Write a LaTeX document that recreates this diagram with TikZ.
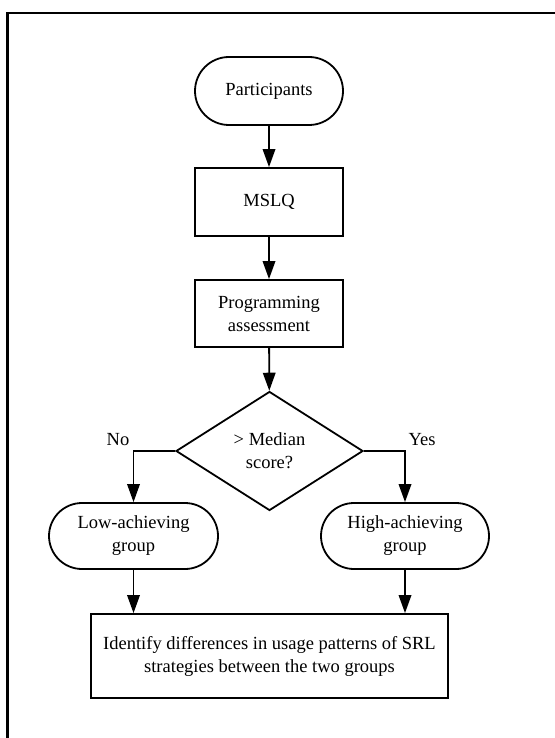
\documentclass[tikz,border=0pt]{standalone}
\usepackage{fontspec}
\setmainfont{Liberation Serif}
\usetikzlibrary{shapes.geometric,shapes.misc,arrows.meta}

\tikzset{every picture/.style={line width=1.8pt}}
\tikzset{
  terminal/.style={draw, rounded rectangle, minimum height=68pt, align=center, inner sep=0pt},
  process/.style={draw, rectangle, minimum height=68pt, align=center, inner sep=0pt},
  decision/.style={draw, diamond, minimum width=187pt, minimum height=119pt, align=center, inner sep=0pt},
  flow/.style={-{Triangle[length=18pt,width=12.5pt]}},
}

\begin{document}
\begin{tikzpicture}[x=1pt,y=1pt,yscale=-1,xscale=1,
  every node/.style={font=\fontsize{18.5}{23}\selectfont}]
\useasboundingbox (0,0) rectangle (554,738);

%Frame
\draw [line width=2.4pt] (560,13) -- (7.3,13) -- (7.3,745) ;

%Shape: Terminal [id:participants]
\node [terminal, minimum width=148pt] (part) at (269,91) {Participants};
%Shape: Process [id:mslq]
\node [process, minimum width=148pt] (mslq) at (269,202) {MSLQ};
%Shape: Process [id:assess]
\node [process, minimum width=148pt, minimum height=67pt] (assess) at (269,313.5) {Programming\\assessment};
%Shape: Decision [id:median]
\node [decision] (median) at (269.5,451) {> Median\\score?};
%Shape: Terminal [id:low]
\node [terminal, minimum width=169pt, minimum height=66pt] (low) at (133.5,536) {Low-achieving\\group};
%Shape: Terminal [id:high]
\node [terminal, minimum width=168pt, minimum height=66pt] (high) at (405,536) {High-achieving\\group};
%Shape: Process [id:diff]
\node [process, minimum width=357pt, minimum height=84pt] (diff) at (269.5,656) {Identify differences in usage patterns of SRL\\strategies between the two groups};

%Straight Lines
\draw [flow] (part) -- (mslq) ;
\draw [flow] (mslq) -- (assess) ;
\draw [flow] (assess) -- (median) ;
\draw [flow] (median.west) -| (low.north) ;
\draw [flow] (median.east) -| (high.north) ;
\draw [flow] (low.south) -- (low.south |- diff.north) ;
\draw [flow] (high.south) -- (high.south |- diff.north) ;

% Text Node
\node (no) at (118,440) {No};
% Text Node
\node (yes) at (422,440) {Yes};

\end{tikzpicture}
\end{document}
